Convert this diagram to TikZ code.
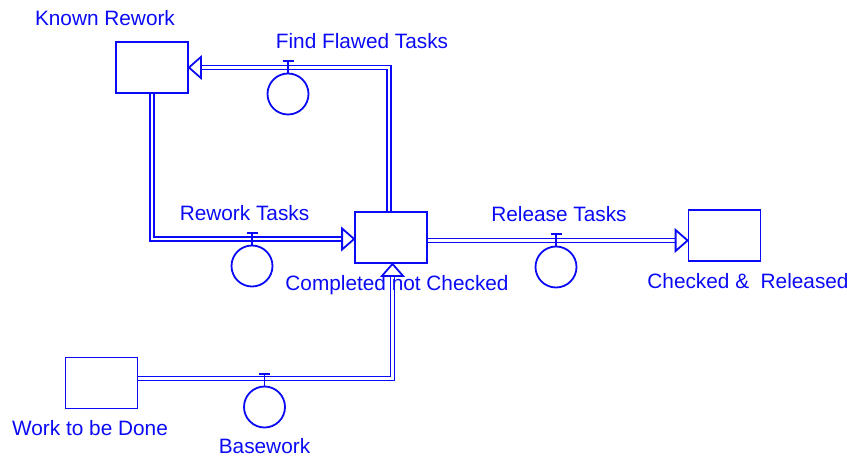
\documentclass[tikz,border=0pt]{standalone}
\usepackage{fontspec}
\setmainfont{Liberation Sans}
\definecolor{sdblue}{RGB}{10,10,245}
\begin{document}
\begin{tikzpicture}[x=1pt,y=-1pt,
  stock/.style={draw=sdblue, line width=1.8pt, minimum width=72pt, minimum height=51pt, inner sep=0pt},
  valve/.style={circle, draw=sdblue, line width=1.8pt, minimum size=41pt, inner sep=0pt},
  pipe/.style={draw=sdblue, double=white, double distance=2.3pt, line width=1.6pt},
  tiphead/.style={draw=sdblue, fill=white, line width=1.8pt, line join=miter},
  stem/.style={draw=sdblue, line width=1.8pt},
  lbl/.style={text=sdblue, anchor=base, inner sep=0pt, font=\fontsize{20.8}{24}\selectfont}]
\useasboundingbox (0,0) rectangle (853,460);
% stocks
\node[stock] (kr)  at (152,67.5) {};
\node[stock] (cnc) at (391,237.5) {};
\node[stock] (crl) at (724.5,235.5) {};
\node[stock] (wtd) at (101.5,383) {};
% valves
\node[valve] (ffv) at (288,94) {};
\node[valve] (rwv) at (252,266) {};
\node[valve] (rlv) at (556,267) {};
\node[valve] (bwv) at (264.5,407) {};
% pipe end points
\coordinate (ffS) at ([xshift=-2pt]cnc.north);
\coordinate (ffE) at (kr.east);
\coordinate (rwS) at (kr.south);
\coordinate (rwE) at ([yshift=-1.5pt]cnc.west);
\coordinate (rlS) at ([yshift=-3pt]cnc.east);
\coordinate (rlE) at (rlS -| crl.west);
\coordinate (bwS) at ([yshift=4.5pt]wtd.east);
\coordinate (bwE) at ([xshift=1.5pt]cnc.south);
% pipes
\draw[pipe] (ffS) |- ([xshift=12pt]ffE);
\draw[pipe] (rwS) |- ([xshift=-12pt]rwE);
\draw[pipe] (rlS) -- ([xshift=-12pt]rlE);
\draw[pipe] (bwS) -| ([yshift=-12pt]bwE);
% arrow heads
\draw[tiphead] (ffE) -- ++(12,-10.5) -- ++(0,21) -- cycle;
\draw[tiphead] (rwE) -- ++(-12,-10.5) -- ++(0,21) -- cycle;
\draw[tiphead] (rlE) -- ++(-12,-10.5) -- ++(0,21) -- cycle;
\draw[tiphead] (bwE) -- ++(-10.5,12) -- ++(21,0) -- cycle;
% valve stems
\foreach \v in {ffv,rwv,rlv,bwv}{
  \draw[stem] (\v.north) -- ++(0,-12) ++(-5.5,0) -- ++(11,0);
}
% labels
\node[lbl] (lkr)  at (105,25.5) {Known Rework};
\node[lbl] (lff)  at (362,48.5) {Find Flawed Tasks};
\node[lbl] (lrw)  at (244.5,220.5) {Rework Tasks};
\node[lbl] (lcnc) at (397,290.5) {Completed not Checked};
\node[lbl] (lrl)  at (559,221.5) {Release Tasks};
\node[lbl] (lcrl) at (748,288.5) {Checked \&\ \ Released};
\node[lbl] (lwtd) at (90,435.5) {Work to be Done};
\node[lbl] (lbw)  at (264.5,453.5) {Basework};
\end{tikzpicture}
\end{document}
